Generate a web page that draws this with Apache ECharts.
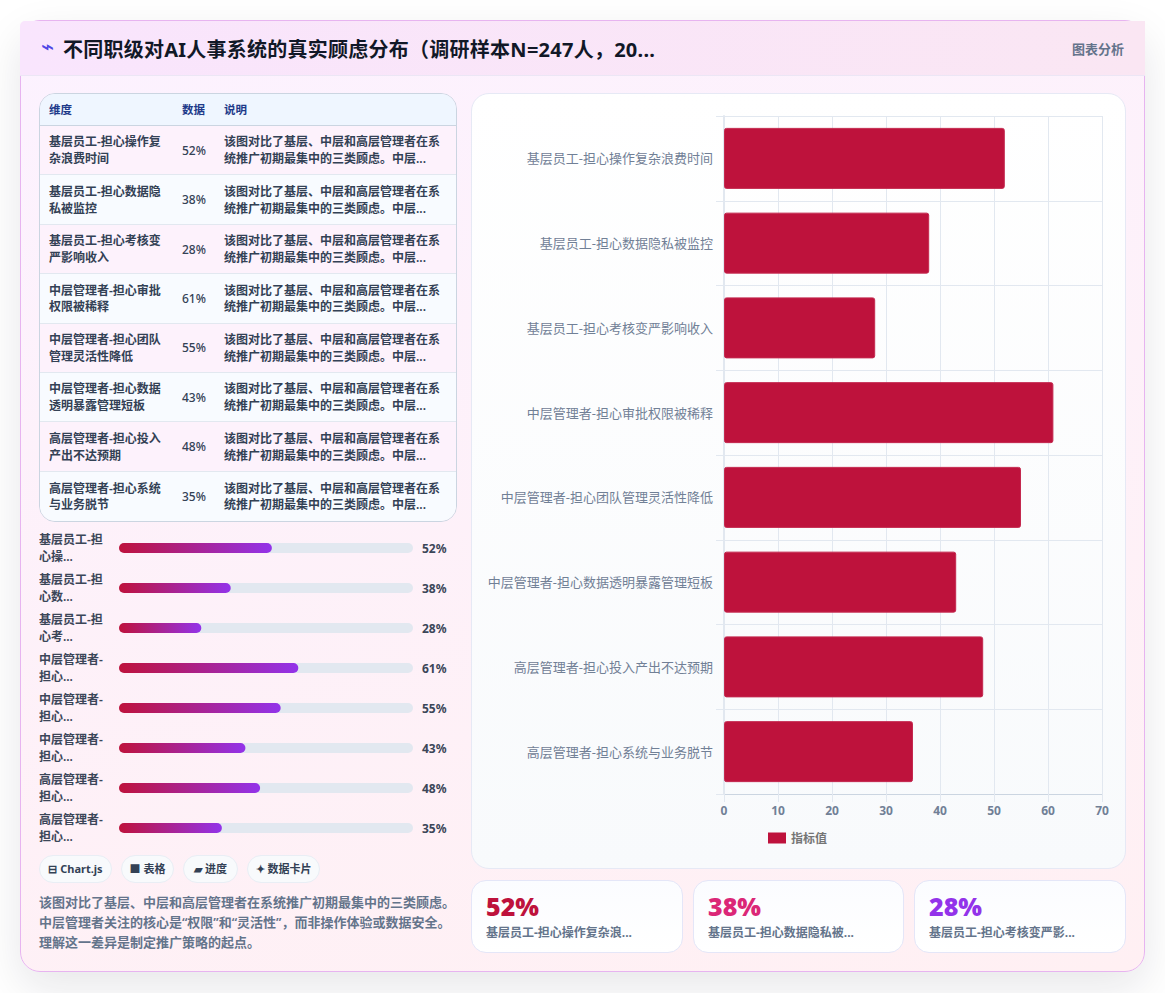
<!DOCTYPE html>
<html lang="zh-CN">
<head>
<meta charset="utf-8">
<title>不同职级对AI人事系统的真实顾虑分布</title>
<script src="https://cdn.jsdelivr.net/npm/echarts@6/dist/echarts.min.js"></script>
<style>
  * { box-sizing: border-box; margin: 0; padding: 0; }
  html, body { width: 1165px; height: 993px; overflow: hidden; background: #fff;
    font-family: "Noto Sans", "Noto Sans CJK SC", sans-serif; }
  .card { position: absolute; left: 20px; top: 20px; width: 1125px; height: 952px;
    border: 1px solid #e7b4f0; border-radius: 20px;
    background: linear-gradient(165deg, #fcf2ff 0%, #fff0f3 100%);
    box-shadow: 0 16px 44px rgba(15, 23, 42, .10); }
  .head { position: absolute; left: -1px; top: 0; width: 1125px; height: 55px;
    background: linear-gradient(90deg, #f9e5fd 0%, #fae6f3 100%);
    border-bottom: 1px solid #ece6f5; border-radius: 5px 0 0 0; }
  .head .icon { position: absolute; left: 21px; top: 13px; font: 400 22px "DejaVu Sans"; color: #4f46e5; }
  .head .title { position: absolute; left: 43px; top: 16px; font-size: 20px; font-weight: 700; letter-spacing: .25px;
    color: #111827; white-space: nowrap; line-height: 26px; }
  .head .tag { position: absolute; right: 21px; top: 18px; font-size: 13px; font-weight: 700; color: #64748b; }
  .abs { position: absolute; }
  table { border-collapse: separate; border-spacing: 0; width: 416px; table-layout: fixed; }
  .tbl { left: 39px; top: 93px; width: 418px; height: 429px; border: 1px solid #cbd5e1;
    border-radius: 16px; overflow: hidden; }
  th { height: 32px; padding-bottom: 1px; background: #eff6ff; color: #1e3a8a; font-size: 11.5px; font-weight: 700;
    text-align: left; padding-left: 9px; border-bottom: 1px solid #cbd5e1; }
  td { height: 49.4px; padding: 2px 9px 0; font-size: 12px; font-weight: 600; color: #334155;
    line-height: 16.8px; border-bottom: 1px solid #e2e8f0; vertical-align: middle; }
  tr:last-child td { border-bottom: 0; }
  tr:nth-child(odd) td { background: #fdf2fc; }
  tr:nth-child(even) td { background: #f8fbff; }
  td.num { font-weight: 500; }
  #progress { left: 39px; top: 528px; width: 418px; height: 320px; }
  .chip { position: absolute; top: 855px; height: 28px; border: 1px solid #e9eef5; border-radius: 14px;
    background: #f8fafc; color: #334155; font-size: 11px; font-weight: 700; line-height: 26px;
    text-align: center; white-space: nowrap; }
  .desc { left: 39px; top: 893px; width: 420px; font-size: 13px; font-weight: 600; line-height: 19.8px; color: #64748b; }
  .panel { left: 471px; top: 93px; width: 655px; height: 776px; border: 1px solid #e6e9f5; border-radius: 18px;
    background: linear-gradient(180deg, #ffffff 0%, #f8fafc 100%); }
  #bars { position: absolute; left: -1px; top: -1px; width: 655px; height: 776px; }
  .kpi { position: absolute; top: 880px; height: 73px; border: 1px solid #e4e6f8; border-radius: 15px;
    background: linear-gradient(180deg, #fbfcff 0%, #ffffff 100%); }
  .kpi b { position: absolute; left: 14px; top: 7px; font-size: 25px; font-weight: 900; line-height: 36px; }
  .kpi span { position: absolute; left: 14px; top: 44px; font-size: 12px; font-weight: 700; color: #64748b; line-height: 16px; white-space: nowrap; }
</style>
</head>
<body>
<div class="card">
  <div class="head">
    <span class="icon">⌁</span>
    <span class="title" id="title"></span>
    <span class="tag">图表分析</span>
  </div>
</div>
<div class="abs tbl"><table id="tbl"></table></div>
<div class="abs" id="progress"></div>
<div id="chips"></div>
<div class="abs desc" id="desc"></div>
<div class="abs panel"><div id="bars"></div></div>
<div id="kpis"></div>

<script>
// 调研结果：各职级最集中的顾虑及其占比（%）
const titleText = '不同职级对AI人事系统的真实顾虑分布（调研样本N=247人，20...';
const categories = [
  '基层员工-担心操作复杂浪费时间',
  '基层员工-担心数据隐私被监控',
  '基层员工-担心考核变严影响收入',
  '中层管理者-担心审批权限被稀释',
  '中层管理者-担心团队管理灵活性降低',
  '中层管理者-担心数据透明暴露管理短板',
  '高层管理者-担心投入产出不达预期',
  '高层管理者-担心系统与业务脱节'
];
const values = [52, 38, 28, 61, 55, 43, 48, 35];
const shortLabels = [
  '基层员工-担\n心操...', '基层员工-担\n心数...', '基层员工-担\n心考...',
  '中层管理者-\n担心...', '中层管理者-\n担心...', '中层管理者-\n担心...',
  '高层管理者-\n担心...', '高层管理者-\n担心...'
];
const xTicks = { min: 0, max: 70, interval: 10 };
const tableHeads = ['维度', '数据', '说明'];
const rowNote = '该图对比了基层、中层和高层管理者在系统推广初期最集中的三类顾虑。中层...';
const summary = '该图对比了基层、中层和高层管理者在系统推广初期最集中的三类顾虑。中层管理者关注的核心是“权限”和“灵活性”，而非操作体验或数据安全。理解这一差异是制定推广策略的起点。';
const chips = [['⊟ Chart.js', 39, 73], ['■ 表格', 121, 53], ['▰ 进度', 183, 55], ['✦ 数据卡片', 247, 73]];
const kpiLabels = ['基层员工-担心操作复杂浪...', '基层员工-担心数据隐私被...', '基层员工-担心考核变严影...'];
const kpiColors = ['#be123c', '#db2777', '#9333ea'];
const kpiBoxes = [[471, 212], [693, 211], [914, 212]];

const fontStack = '"Noto Sans", "Noto Sans CJK SC", sans-serif';
document.getElementById('title').textContent = titleText;
document.getElementById('desc').textContent = summary;

// 明细表
document.getElementById('tbl').innerHTML =
  '<colgroup><col style="width:133px"><col style="width:42px"><col></colgroup>' +
  '<thead><tr>' + tableHeads.map(h => '<th>' + h + '</th>').join('') + '</tr></thead><tbody>' +
  categories.map((c, i) =>
    '<tr><td>' + c + '</td><td class="num">' + values[i] + '%</td>' +
    '<td>' + rowNote + '</td></tr>').join('') + '</tbody>';

// 类型标签
document.getElementById('chips').innerHTML = chips.map(([t, x, w]) =>
  '<div class="chip" style="left:' + x + 'px;width:' + w + 'px">' + t + '</div>').join('');

// 指标卡片
document.getElementById('kpis').innerHTML = kpiLabels.map((t, i) =>
  '<div class="kpi" style="left:' + kpiBoxes[i][0] + 'px;width:' + kpiBoxes[i][1] + 'px">' +
  '<b style="color:' + kpiColors[i] + '">' + values[i] + '%</b><span>' + t + '</span></div>').join('');

// 左侧进度条：底轨 0-100%，渐变填充
const progress = echarts.init(document.getElementById('progress'), null, { renderer: 'svg' });
progress.setOption({
  animation: false,
  textStyle: { fontFamily: fontStack },
  grid: { left: 80, right: 44, top: 0, bottom: 0, outerBoundsMode: 'none' },
  xAxis: { type: 'value', min: 0, max: 100, show: false },
  yAxis: [
    { type: 'category', inverse: true, data: shortLabels,
      axisLine: { show: false }, axisTick: { show: false },
      axisLabel: { align: 'left', margin: 80, padding: [2, 0, 0, 0], fontSize: 12, fontWeight: 600, lineHeight: 17, color: '#3b4658', fontFamily: fontStack } },
    { type: 'category', inverse: true, position: 'right', data: values.map(v => v + '%'),
      axisLine: { show: false }, axisTick: { show: false },
      axisLabel: { align: 'left', margin: 9, fontSize: 12, fontWeight: 700, color: '#3b4658', fontFamily: fontStack } }
  ],
  series: [{
    type: 'bar', data: values, barWidth: 10,
    showBackground: true,
    backgroundStyle: { color: '#e2e8f0', borderRadius: 5 },
    itemStyle: {
      borderRadius: 5,
      color: new echarts.graphic.LinearGradient(0, 0, 1, 0, [
        { offset: 0, color: '#be123c' }, { offset: 1, color: '#9333ea' }
      ])
    }
  }]
});

// 右侧主图：横向柱状图
const bars = echarts.init(document.getElementById('bars'), null, { renderer: 'svg' });
const gridColor = '#e2e8f0';
bars.setOption({
  animation: false,
  textStyle: { fontFamily: fontStack },
  legend: {
    left: 292, top: 734, itemWidth: 18, itemHeight: 11, itemGap: 7,
    icon: 'rect',
    itemStyle: { borderWidth: 0 },
    textStyle: { fontSize: 12, fontWeight: 600, color: '#757575', fontFamily: fontStack },
    data: ['指标值']
  },
  grid: { left: 253, top: 23, width: 378, height: 678, outerBoundsMode: 'none' },
  xAxis: {
    type: 'value', min: xTicks.min, max: xTicks.max, interval: xTicks.interval,
    axisLine: { show: true, lineStyle: { color: '#cbd5e1' } },
    axisTick: { show: true, length: 8, lineStyle: { color: gridColor } },
    splitLine: { show: true, lineStyle: { color: gridColor } },
    axisLabel: { margin: 10, fontSize: 12, fontWeight: 700, color: '#718096', fontFamily: fontStack }
  },
  yAxis: {
    type: 'category', inverse: true, data: categories,
    axisLine: { show: true, lineStyle: { color: gridColor, width: 2 } },
    axisTick: { show: true, length: 8, lineStyle: { color: gridColor } },
    splitLine: { show: true, lineStyle: { color: gridColor } },
    axisLabel: { margin: 11, padding: [0, 0, 2, 0], fontSize: 13, color: '#718096', fontFamily: fontStack }
  },
  series: [{
    name: '指标值', type: 'bar', data: values, barWidth: 61,
    itemStyle: { color: '#be123c', borderRadius: 2, borderColor: '#c4294f', borderWidth: 1 }
  }]
});
</script>
</body>
</html>
